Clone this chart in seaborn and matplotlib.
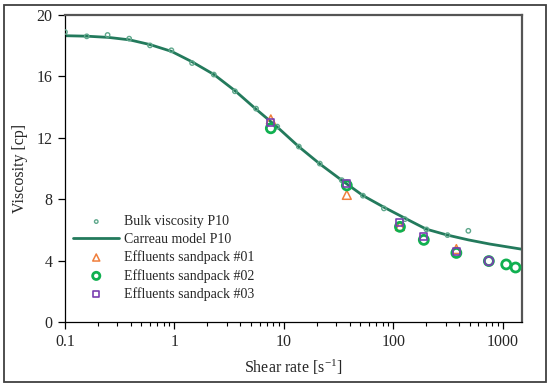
import numpy as np
import pandas as pd
import matplotlib
matplotlib.use("Agg")
import matplotlib.pyplot as plt
import matplotlib.ticker as mticker
from matplotlib.patches import Rectangle
import seaborn as sns

# ---- data ----
bulk_rate = [0.10, 0.158, 0.245, 0.386, 0.598, 0.938, 1.45, 2.29, 3.57, 5.57,
             8.70, 13.7, 21.3, 33.8, 52.8, 82.1, 127.6, 201, 313, 485]
bulk_visc = [18.89, 18.61, 18.70, 18.46, 18.02, 17.70, 16.87, 16.12, 15.03, 13.90,
             12.73, 11.43, 10.32, 9.24, 8.23, 7.40, 6.70, 6.03, 5.66, 5.94]

model_rate = [0.1, 0.158, 0.25, 0.39, 0.6, 0.94, 1.45, 2.3, 3.6, 5.6, 8.7,
              13.7, 21.3, 34, 53, 82, 128, 200, 313, 485, 760, 1500]
model_visc = [18.65, 18.62, 18.54, 18.38, 18.07, 17.63, 16.95, 16.12, 15.05, 13.85, 12.70,
              11.42, 10.30, 9.22, 8.23, 7.48, 6.76, 6.05, 5.66, 5.35, 5.08, 4.74]

sp1_rate = [7.6, 37.6, 115, 377]
sp1_visc = [13.2, 8.28, 6.25, 4.75]
sp2_rate = [7.6, 37.6, 115, 190, 377, 747, 1076, 1310]
sp2_visc = [12.62, 8.9, 6.2, 5.35, 4.5, 3.97, 3.75, 3.55]
sp3_rate = [7.6, 37.6, 115, 190, 377, 747]
sp3_visc = [13.0, 9.02, 6.47, 5.59, 4.62, 3.97]

labels = ["Bulk viscosity P10", "Carreau model P10", "Effluents sandpack #01",
          "Effluents sandpack #02", "Effluents sandpack #03"]
x_ticks = [0.1, 1, 10, 100, 1000]
x_tick_labels = ["0.1", "1", "10", "100", "1000"]
y_ticks = [0, 4, 8, 12, 16, 20]

# ---- style ----
sns.set_style("ticks")
plt.rcParams["font.family"] = ["Liberation Serif", "DejaVu Serif"]
plt.rcParams["mathtext.fontset"] = "custom"
plt.rcParams["mathtext.rm"] = "Liberation Serif"
plt.rcParams["mathtext.it"] = "Liberation Serif:italic"

c_bulk = "#5FA88C"
c_line = "#237A5C"
c_orange = "#F07F3C"
c_green = "#10B050"
c_purple = "#7A3FB0"

fig = plt.figure(figsize=(5.47, 3.83), dpi=100)
ax = fig.add_axes([65 / 547, 1 - 322 / 383, (522 - 65) / 547, (322 - 15) / 383])

# outer border of the figure
fig.patches.append(Rectangle((4 / 547, 1.5 / 383), 541.5 / 547, 377 / 383,
                             transform=fig.transFigure, fill=False,
                             edgecolor="#404040", linewidth=1.3))

bulk = pd.DataFrame({"rate": bulk_rate, "visc": bulk_visc})
model = pd.DataFrame({"rate": model_rate, "visc": model_visc})
sp1 = pd.DataFrame({"rate": sp1_rate, "visc": sp1_visc})
sp2 = pd.DataFrame({"rate": sp2_rate, "visc": sp2_visc})
sp3 = pd.DataFrame({"rate": sp3_rate, "visc": sp3_visc})

sns.scatterplot(data=bulk, x="rate", y="visc", ax=ax, marker="o", s=10,
                facecolor="none", edgecolor=c_bulk, linewidth=1.0,
                label=labels[0], zorder=3)
sns.lineplot(data=model, x="rate", y="visc", ax=ax, color=c_line, linewidth=2.0,
             label=labels[1], zorder=2)
sns.scatterplot(data=sp1, x="rate", y="visc", ax=ax, marker="^", s=40,
                facecolor="none", edgecolor=c_orange, linewidth=1.1,
                label=labels[2], zorder=4)
sns.scatterplot(data=sp2, x="rate", y="visc", ax=ax, marker="o", s=42,
                facecolor="none", edgecolor=c_green, linewidth=2.0,
                label=labels[3], zorder=5)
sns.scatterplot(data=sp3.iloc[:-1], x="rate", y="visc", ax=ax, marker="s", s=26,
                facecolor="none", edgecolor=c_purple, linewidth=1.2,
                label=labels[4], zorder=6)
sns.scatterplot(data=sp3.iloc[-1:], x="rate", y="visc", ax=ax, marker="o", s=40,
                facecolor="none", edgecolor=c_purple, linewidth=1.3,
                legend=False, zorder=6)

ax.set_xscale("log")
ax.set_xlim(0.1, 1500)
ax.set_ylim(0, 20)
ax.xaxis.set_major_locator(mticker.FixedLocator(x_ticks))
ax.xaxis.set_major_formatter(mticker.FixedFormatter(x_tick_labels))
ax.xaxis.set_minor_locator(mticker.LogLocator(base=10, subs=np.arange(2, 10)))
ax.xaxis.set_minor_formatter(mticker.NullFormatter())
ax.set_yticks(y_ticks)

ax.tick_params(axis="both", which="major", direction="out", length=5, width=0.9,
               labelsize=11.5, color="black", pad=4)
ax.tick_params(axis="x", which="minor", direction="out", length=3, width=0.8, color="black")

for side in ["left", "bottom"]:
    ax.spines[side].set_color("black")
    ax.spines[side].set_linewidth(0.9)
for side in ["top", "right"]:
    ax.spines[side].set_visible(True)
    ax.spines[side].set_color("#555555")
    ax.spines[side].set_linewidth(1.6)

ax.set_xlabel(r"Shear rate [s$^{-1}$]", fontsize=11.5, labelpad=5)
ax.set_ylabel("Viscosity [cp]", fontsize=11.5, labelpad=6)

handles, labs = ax.get_legend_handles_labels()
order = [labs.index(l) for l in labels]
ax.legend([handles[i] for i in order], [labs[i] for i in order],
          loc="upper left", bbox_to_anchor=(0.0, 0.375), frameon=False,
          fontsize=10, handlelength=3.3, handletextpad=0.35, labelspacing=0.33,
          borderaxespad=0.2, markerscale=0.8)

fig.savefig("out.png", dpi=100)
